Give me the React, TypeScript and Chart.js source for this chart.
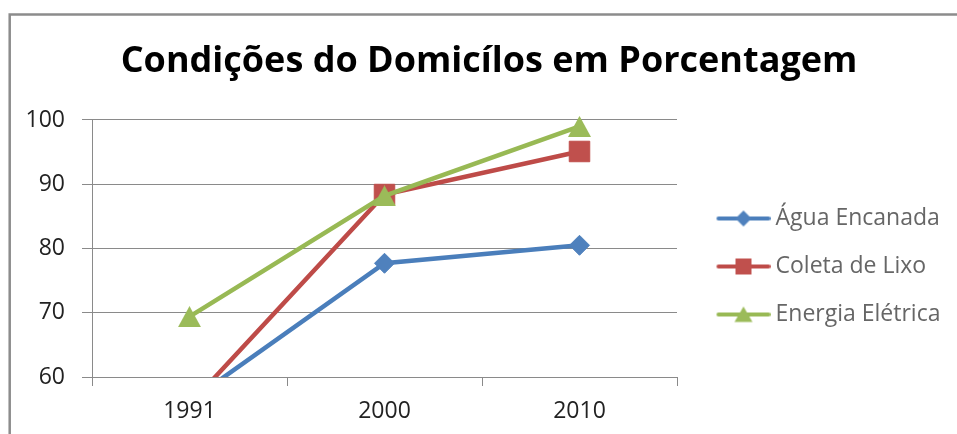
import React, { useEffect, useRef } from 'react';
import { Chart, registerables } from 'chart.js';

Chart.register(...registerables);

// ---- data ----
const CATEGORIES = ['1991', '2000', '2010'];
const SERIES_NAMES = ['Água Encanada', 'Coleta de Lixo', 'Energia Elétrica'];
const AGUA = [56.2, 77.7, 80.5];
const COLETA = [55.7, 88.4, 95.1];
const ENERGIA = [69.4, 88.2, 99.0];
const Y_MIN = 60;
const Y_MAX = 100;
const Y_STEP = 10;
const TITLE = 'Condições do Domicílos em Porcentagem';

// ---- style ----
const FONT = "'Open Sans', sans-serif";
const LINE_COLORS = ['#4a7ebb', '#be4b48', '#98b954'];
const FILL_COLORS = ['#4f81bd', '#c0504d', '#9bbb59'];
const GRID = '#8a8a8a';
const W = 957;
const H = 434;
const PLOT_LEFT = 92;
const PLOT_RIGHT = 677;
const PLOT_TOP = 120;
const PLOT_BOTTOM = 377;
const PAD_L = 21; // centres the title at x = 489
const LEGEND_SIZE = 23;
const LEG_PAD = 25;
const LEG_BOX = 62;

function makeCanvas(w: number, h: number) {
  const c = document.createElement('canvas');
  c.width = w;
  c.height = h;
  return c;
}

function makeTriangle(w: number, h: number, color: string) {
  const c = makeCanvas(w, h);
  const g = c.getContext('2d')!;
  g.fillStyle = color;
  g.beginPath();
  g.moveTo(w / 2, 0);
  g.lineTo(w, h);
  g.lineTo(0, h);
  g.closePath();
  g.fill();
  return c;
}

function makeLegendImage(kind: string, line: string, fill: string) {
  const c = makeCanvas(75, 24);
  const g = c.getContext('2d')!;
  g.strokeStyle = line;
  g.lineWidth = 4;
  g.lineCap = 'round';
  g.beginPath();
  g.moveTo(23, 12);
  g.lineTo(73, 12);
  g.stroke();
  const cx = 48;
  const cy = 12;
  g.fillStyle = fill;
  g.beginPath();
  if (kind === 'diamond') {
    g.moveTo(cx - 8, cy);
    g.lineTo(cx, cy - 8);
    g.lineTo(cx + 8, cy);
    g.lineTo(cx, cy + 8);
  } else if (kind === 'square') {
    g.rect(cx - 8, cy - 8, 16, 16);
  } else {
    g.moveTo(cx, cy - 8);
    g.lineTo(cx + 9, cy + 7.5);
    g.lineTo(cx - 9, cy + 7.5);
  }
  g.closePath();
  g.fill();
  return c;
}

const framePlugin = {
  id: 'frame',
  beforeDraw(chart: any) {
    const ctx = chart.ctx;
    ctx.save();
    ctx.strokeStyle = '#8c8c8c';
    ctx.lineWidth = 2.5;
    ctx.beginPath();
    ctx.moveTo(9.7, chart.height + 5);
    ctx.lineTo(9.7, 14.5);
    ctx.lineTo(chart.width + 5, 14.5);
    ctx.stroke();
    ctx.restore();
  },
};

// fixes the legend column width so the plot ends where the reference's does
const legendWidthPlugin = {
  id: 'legendWidth',
  beforeLayout(chart: any) {
    const lg = chart.legend;
    if (lg && !lg.__fixedWidth) {
      const origFit = Object.getPrototypeOf(lg).fit;
      lg.fit = function () {
        origFit.call(this);
        this.width = W - PLOT_RIGHT;
      };
      lg.__fixedWidth = true;
    }
  },
};

export default function App() {
  const ref = useRef<HTMLCanvasElement>(null);

  useEffect(() => {
    const canvas = ref.current!;
    const legendImgs = [
      makeLegendImage('diamond', LINE_COLORS[0], FILL_COLORS[0]),
      makeLegendImage('square', LINE_COLORS[1], FILL_COLORS[1]),
      makeLegendImage('triangle', LINE_COLORS[2], FILL_COLORS[2]),
    ];
    const triImg = makeTriangle(23, 21, FILL_COLORS[2]);

    const clip = { left: false, right: false, top: false, bottom: 0 } as any;
    const tickFont = { family: FONT, size: 23 };

    const chart = new Chart(canvas, {
      type: 'line',
      data: {
        labels: CATEGORIES,
        datasets: [
          {
            label: SERIES_NAMES[0],
            data: AGUA,
            borderColor: LINE_COLORS[0],
            backgroundColor: FILL_COLORS[0],
            borderWidth: 4.5,
            pointStyle: 'rectRot',
            pointRadius: 10,
            pointBackgroundColor: FILL_COLORS[0],
            pointBorderColor: FILL_COLORS[0],
            pointBorderWidth: 1,
            clip,
            order: 3,
          },
          {
            label: SERIES_NAMES[1],
            data: COLETA,
            borderColor: LINE_COLORS[1],
            backgroundColor: FILL_COLORS[1],
            borderWidth: 4.5,
            pointStyle: 'rect',
            pointRadius: 14.5,
            pointBackgroundColor: FILL_COLORS[1],
            pointBorderColor: FILL_COLORS[1],
            pointBorderWidth: 1,
            clip,
            order: 2,
          },
          {
            label: SERIES_NAMES[2],
            data: ENERGIA,
            borderColor: LINE_COLORS[2],
            backgroundColor: FILL_COLORS[2],
            borderWidth: 4.5,
            pointStyle: triImg as any,
            pointRadius: 11,
            pointBackgroundColor: FILL_COLORS[2],
            pointBorderColor: FILL_COLORS[2],
            clip,
            order: 1,
          },
        ],
      },
      options: {
        animation: false,
        responsive: true,
        maintainAspectRatio: false,
        events: [],
        layout: { padding: { left: PAD_L, right: 0, top: 0, bottom: 0 } },
        plugins: {
          tooltip: { enabled: false },
          title: {
            display: true,
            text: TITLE,
            color: '#000',
            font: { family: FONT, size: 36, weight: 'bold', lineHeight: 1.2 },
            padding: { top: 40.4, bottom: PLOT_TOP - 40.4 - 43.2 },
          },
          legend: {
            display: true,
            position: 'right',
            align: 'start',
            title: {
              display: true,
              text: '',
              font: { size: 10, lineHeight: 1 },
              padding: { top: 0, bottom: 172 },
            },
            labels: {
              usePointStyle: true,
              pointStyleWidth: LEG_BOX,
              padding: LEG_PAD,
              color: '#000',
              font: { family: FONT, size: LEGEND_SIZE },
              generateLabels: (ch: any) =>
                ch.data.datasets.map((ds: any, i: number) => ({
                  text: ds.label,
                  pointStyle: legendImgs[i],
                  fillStyle: 'rgba(0,0,0,0)',
                  strokeStyle: 'rgba(0,0,0,0)',
                  lineWidth: 0,
                  hidden: false,
                  datasetIndex: i,
                })),
            },
          },
        },
        scales: {
          x: {
            offset: true,
            afterFit: (s: any) => {
              s.height = H - PLOT_BOTTOM;
            },
            grid: {
              display: true,
              offset: true,
              drawOnChartArea: false,
              drawTicks: true,
              tickLength: 9,
              color: GRID,
            },
            border: { display: true, color: GRID, width: 1 },
            ticks: { font: tickFont, color: '#222', padding: 12 },
          },
          y: {
            min: Y_MIN,
            max: Y_MAX,
            afterFit: (s: any) => {
              s.width = PLOT_LEFT - PAD_L;
            },
            grid: { color: GRID, lineWidth: 1, tickLength: 10, drawTicks: true },
            border: { display: true, color: GRID, width: 1 },
            ticks: { stepSize: Y_STEP, font: tickFont, color: '#222', padding: 17 },
          },
        },
      },
      plugins: [framePlugin, legendWidthPlugin],
    });

    return () => chart.destroy();
  }, []);

  return (
    <div style={{ position: 'absolute', left: 0, top: 0, width: W, height: H, background: '#fff' }}>
      <canvas ref={ref} />
    </div>
  );
}
